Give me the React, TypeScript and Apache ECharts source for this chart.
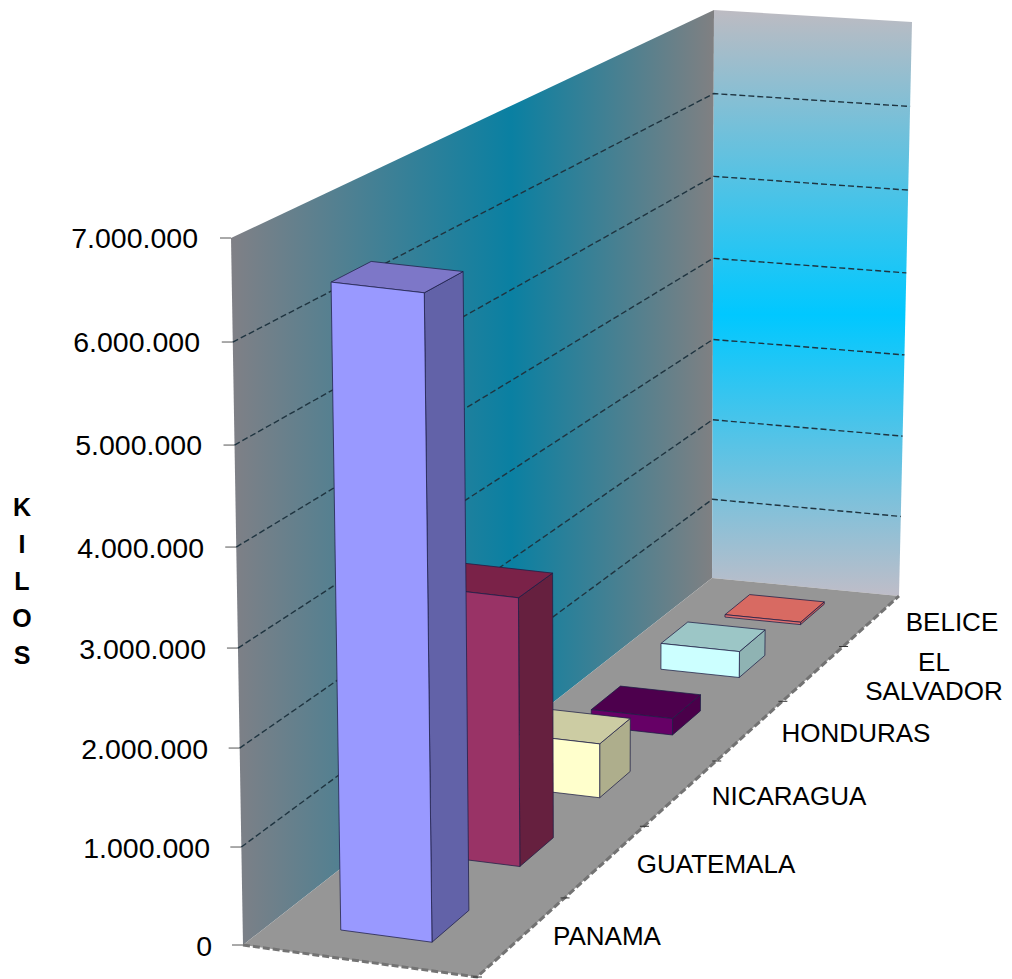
import React, { useEffect, useRef } from "react";
import * as echarts from "echarts";

const categories = ["PANAMA", "GUATEMALA", "NICARAGUA", "HONDURAS", "EL\nSALVADOR", "BELICE"];
const kilos = [6500000, 2850000, 600000, 190000, 310000, 30000];
const tickValues = [0, 1000000, 2000000, 3000000, 4000000, 5000000, 6000000, 7000000];
const frontColors = ["#9999ff", "#993366", "#ffffcc", "#660066", "#ccffff", "#e07070"];
const sideColors = ["#6262a8", "#66203f", "#aeae8c", "#4a004a", "#8fb3b3", "#c05858"];
const topColors = ["#7d77c8", "#7a2248", "#cccca3", "#4d004d", "#9cc6c6", "#d86a62"];
const labelAnchors = [[607, 936], [716, 864], [789, 796], [856, 733], [934, 676], [952, 622]];

type P = number[];
const A = [243, 945], B = [477, 977], C = [899, 596], D = [712, 578];
const A2 = [231, 238], B2 = [470, 266], C2 = [912, 22], D2 = [714, 10];
const Y0 = 946, Y7 = 238;

function homography(p0: P, p1: P, p2: P, p3: P) {
  const dx1 = p1[0] - p2[0], dx2 = p3[0] - p2[0], sx = p0[0] - p1[0] + p2[0] - p3[0];
  const dy1 = p1[1] - p2[1], dy2 = p3[1] - p2[1], sy = p0[1] - p1[1] + p2[1] - p3[1];
  const den = dx1 * dy2 - dx2 * dy1;
  const g = (sx * dy2 - dx2 * sy) / den, h = (dx1 * sy - sx * dy1) / den;
  const a = p1[0] - p0[0] + g * p1[0], b = p3[0] - p0[0] + h * p3[0];
  const d = p1[1] - p0[1] + g * p1[1], e = p3[1] - p0[1] + h * p3[1];
  return (u: number, v: number): P => {
    const w = g * u + h * v + 1;
    return [(a * u + b * v + p0[0]) / w, (d * u + e * v + p0[1]) / w];
  };
}
const floorMap = homography(A, B, C, D);
const ceilMap = homography(A2, B2, C2, D2);
const WARP = -0.035;
const warp = (h: number) => h + WARP * h * (1 - h);
const project = (t: number, s: number, h: number): P => {
  const f = floorMap(t, s), c = ceilMap(t, s), k = warp(h);
  return [f[0] + (c[0] - f[0]) * k, f[1] + (c[1] - f[1]) * k];
};
const frac = (api: any, v: number) => (Y0 - api.coord([0, v])[1]) / (Y0 - Y7);

const T0 = 0.295, T1 = 0.69, S_START = 0.051, S_WIDTH = 0.068, SLOT = 1 / 6;
const EDGE = "rgba(30,30,70,0.75)";

const formatTick = (v: number) => String(v).replace(/\B(?=(\d{3})+(?!\d))/g, ".");
const richKey = (v: number) => "p" + v / 1000000;
const rich: Record<string, any> = {};
tickValues.forEach((v) => {
  const h = v / 7000000;
  const shiftDown = (Y0 - Y7) * -WARP * h * (1 - h);
  rich[richKey(v)] = {
    fontFamily: "Liberation Sans",
    fontSize: 28.5,
    color: "#000",
    padding: [Math.max(0, 2 * shiftDown), 14 * h, 0, 0],
  };
});

const poly = (points: P[], fill: string, z2: number) => ({
  type: "polygon",
  z2,
  shape: { points },
  style: { fill, stroke: EDGE, lineWidth: 1 },
});

export default function App() {
  const ref = useRef<HTMLDivElement>(null);
  useEffect(() => {
    document.body.style.margin = "0";
    const chart = echarts.init(ref.current!, undefined, { renderer: "svg" });
    chart.setOption({
      animation: false,
      backgroundColor: "#fff",
      grid: { left: 232, width: 680, top: Y7, bottom: 979 - Y0 },
      xAxis: { type: "category", data: categories, show: false },
      yAxis: {
        type: "value",
        min: 0,
        max: 7000000,
        interval: 1000000,
        axisLine: { show: false },
        axisTick: { show: false },
        splitLine: { show: false },
        axisLabel: {
          margin: 20,
          formatter: (v: number) => `{${richKey(v)}|${formatTick(v)}}`,
          rich,
        },
      },
      graphic: [
        {
          type: "polygon",
          z: 0,
          shape: { points: [A2, D2, D, A] },
          style: {
            fill: new echarts.graphic.LinearGradient(0, 0, 1, 0, [
              { offset: 0, color: "#808086" },
              { offset: 0.58, color: "#0a80a2" },
              { offset: 1, color: "#808082" },
            ]),
          },
        },
        {
          type: "polygon",
          z: 0,
          shape: { points: [D2, C2, C, D] },
          style: {
            fill: new echarts.graphic.LinearGradient(0, 0, 0, 1, [
              { offset: 0, color: "#bdbbc2" },
              { offset: 0.52, color: "#00c8ff" },
              { offset: 1, color: "#bfbdc8" },
            ]),
          },
        },
        {
          type: "polygon",
          z: 0,
          shape: { points: [A, B, C, D] },
          style: { fill: "#969696" },
        },
        {
          type: "polyline",
          z: 1,
          shape: { points: [A, B, C] },
          style: { fill: "none", stroke: "#737373", lineWidth: 3, lineDash: [7, 3] },
        },
        {
          type: "text",
          z: 1,
          style: {
            text: "K\nI\nL\nO\nS",
            x: 22,
            y: 581,
            align: "center",
            verticalAlign: "middle",
            fontFamily: "Liberation Sans",
            fontSize: 25,
            fontWeight: "bold",
            lineHeight: 37,
            fill: "#000",
          },
        },
      ],
      series: [
        {
          type: "custom",
          name: "gridlines",
          coordinateSystem: "cartesian2d",
          clip: false,
          z: 2,
          silent: true,
          data: tickValues.map((v) => [0, v]),
          renderItem: (_: any, api: any) => {
            const v = api.value(1);
            const h = frac(api, v);
            const start = project(0, 0, h);
            const mid = project(0, 1, h);
            const end = project(1, 1, h);
            const children: any[] = [
              {
                type: "line",
                shape: { x1: start[0] - 11, y1: start[1], x2: start[0], y2: start[1] },
                style: { stroke: "#555", lineWidth: 1 },
              },
            ];
            if (v > 0 && v < 7000000) {
              children.push({
                type: "polyline",
                shape: { points: [start, mid, end] },
                style: { fill: "none", stroke: "#1f3440", lineWidth: 1.4, lineDash: [6, 3] },
              });
            }
            return { type: "group", children };
          },
        },
        {
          type: "custom",
          name: "KILOS",
          coordinateSystem: "cartesian2d",
          clip: false,
          z: 3,
          data: kilos.map((v, i) => [i, v]).reverse(),
          renderItem: (_: any, api: any) => {
            const i = api.value(0);
            const h = frac(api, api.value(1));
            const s0 = i * SLOT + S_START, s1 = s0 + S_WIDTH;
            const z = 10 - i;
            const tick = project(1, i * SLOT, 0);
            return {
              type: "group",
              children: [
                poly([project(T1, s0, 0), project(T1, s1, 0), project(T1, s1, h), project(T1, s0, h)], sideColors[i], z),
                poly([project(T0, s0, h), project(T1, s0, h), project(T1, s1, h), project(T0, s1, h)], topColors[i], z),
                poly([project(T0, s0, 0), project(T1, s0, 0), project(T1, s0, h), project(T0, s0, h)], frontColors[i], z),
                {
                  type: "line",
                  shape: { x1: tick[0] - 4, y1: tick[1], x2: tick[0] + 5, y2: tick[1] },
                  style: { stroke: "#333", lineWidth: 1 },
                },
                {
                  type: "text",
                  style: {
                    text: categories[i],
                    x: labelAnchors[i][0],
                    y: labelAnchors[i][1],
                    align: "center",
                    verticalAlign: "middle",
                    fontFamily: "Liberation Sans",
                    fontSize: 26,
                    lineHeight: 29,
                    fill: "#000",
                  },
                },
              ],
            };
          },
        },
      ],
    });
    return () => chart.dispose();
  }, []);
  return <div ref={ref} style={{ width: 1012, height: 979 }} />;
}
